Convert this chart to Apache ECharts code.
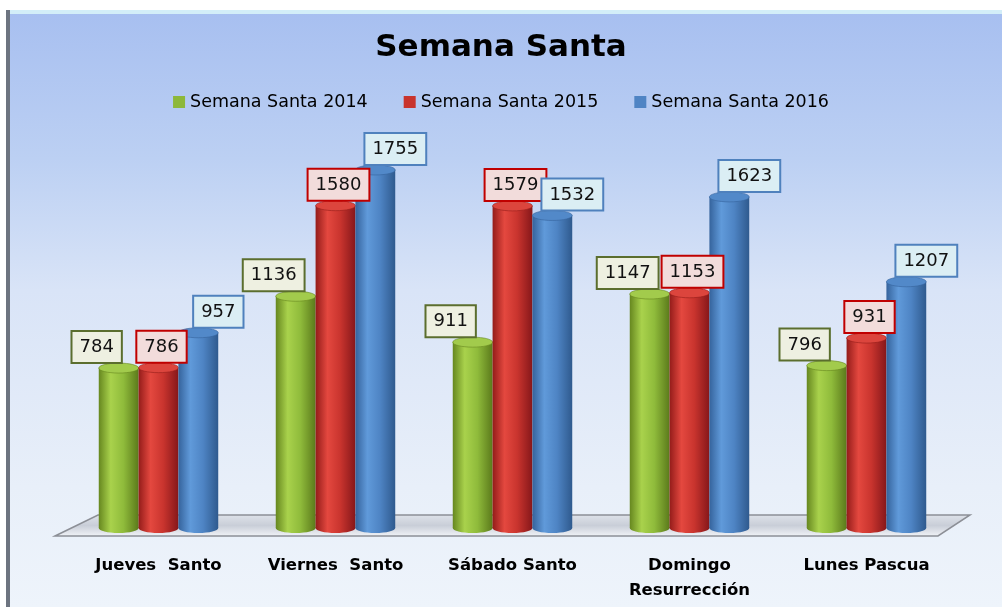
<!DOCTYPE html>
<html>
<head>
<meta charset="utf-8">
<script src="https://cdn.jsdelivr.net/npm/echarts@6/dist/echarts.min.js"></script>
<style>
  html, body { margin: 0; padding: 0; background: #fff; }
  #chart { width: 1002px; height: 607px; }
</style>
</head>
<body>
<div id="chart"></div>
<script>
const categories = ["Jueves  Santo", "Viernes  Santo", "Sábado Santo", "Domingo\nResurrección", "Lunes Pascua"];
const seriesNames = ["Semana Santa 2014", "Semana Santa 2015", "Semana Santa 2016"];
const values2014 = [784, 1136, 911, 1147, 796];
const values2015 = [786, 1580, 1579, 1153, 931];
const values2016 = [957, 1755, 1532, 1623, 1207];

// body gradient stops per series: edge, highlight, mid, edge
const palettes = [
  { base: "#8db83a", stops: ["#66871f", "#a9d24c", "#8fbb3b", "#5b7a1b"], cap: "#a2cb4c", border: "#5b6e2e", bg: "#eef0e1" },
  { base: "#c8332d", stops: ["#941c1a", "#e4483f", "#c9342e", "#86171a"], cap: "#dc453d", border: "#c00000", bg: "#f2dcdb" },
  { base: "#4f84c4", stops: ["#35639c", "#609ada", "#4e84c4", "#2f5a8e"], cap: "#5289c9", border: "#4f81bd", bg: "#dbeef4" }
];
const labelShift = [-22, 3, 20];

const chart = echarts.init(document.getElementById("chart"));

function makeRender(si) {
  const pal = palettes[si];
  return function (params, api) {
    const cat = api.value(0);
    const val = api.value(1);
    const top = api.coord([cat, val]);
    const base = api.coord([cat, 0]);
    const catW = api.size([1, 0])[0];
    const bw = catW * 0.225;
    const cx = top[0] + (si - 1) * bw;
    const ry = 5;
    const grad = new echarts.graphic.LinearGradient(0, 0, 1, 0, [
      { offset: 0, color: pal.stops[0] },
      { offset: 0.3, color: pal.stops[1] },
      { offset: 0.62, color: pal.stops[2] },
      { offset: 1, color: pal.stops[3] }
    ]);
    return {
      type: "group",
      children: [
        {
          type: "ellipse",
          shape: { cx: cx, cy: base[1], rx: bw / 2, ry: ry },
          style: { fill: grad }
        },
        {
          type: "rect",
          shape: { x: cx - bw / 2, y: top[1], width: bw, height: base[1] - top[1] },
          style: { fill: grad }
        },
        {
          type: "ellipse",
          shape: { cx: cx, cy: top[1], rx: bw / 2, ry: ry },
          style: { fill: pal.cap, stroke: pal.stops[0], lineWidth: 0.6 }
        },
        {
          type: "text",
          z2: 100,
          x: cx + labelShift[si],
          y: top[1] - ry - 1,
          style: {
            text: String(val),
            fontFamily: "DejaVu Sans",
            fontSize: 18,
            lineHeight: 21,
            fill: "#111",
            align: "center",
            verticalAlign: "bottom",
            backgroundColor: pal.bg,
            borderColor: pal.border,
            borderWidth: 2,
            padding: [5, 7, 4, 7]
          }
        }
      ]
    };
  };
}

const allValues = [values2014, values2015, values2016];

chart.setOption({
  backgroundColor: "#ffffff",
  animation: false,
  graphic: [
    {
      type: "rect", z: -10, silent: true,
      shape: { x: 9, y: 10, width: 993, height: 597 },
      style: {
        fill: new echarts.graphic.LinearGradient(0, 0, 0, 1, [
          { offset: 0, color: "#a7bff0" },
          { offset: 0.25, color: "#bcd0f3" },
          { offset: 0.47, color: "#d9e4f7" },
          { offset: 0.8, color: "#e8eff9" },
          { offset: 1, color: "#eef4fb" }
        ])
      }
    },
    {
      type: "rect", z: -9, silent: true,
      shape: { x: 9, y: 10, width: 993, height: 4 },
      style: { fill: "#d3eef8" }
    },
    {
      type: "rect", z: -9, silent: true,
      shape: { x: 6, y: 10, width: 4, height: 597 },
      style: { fill: "#6d7480" }
    },
    {
      type: "polygon", z: -5, silent: true,
      shape: { points: [[55, 536], [98, 515], [970, 515], [938, 536]] },
      style: {
        fill: new echarts.graphic.LinearGradient(0, 0, 0, 1, [
          { offset: 0, color: "#dfe3ea" },
          { offset: 0.5, color: "#c9ced8" },
          { offset: 1, color: "#f2f4f8" }
        ]),
        stroke: "#8c8f96",
        lineWidth: 1.5
      }
    }
  ],
  title: {
    text: "Semana Santa",
    left: "center",
    top: 27,
    textStyle: { fontFamily: "DejaVu Sans", fontWeight: "bold", fontSize: 31, color: "#000" }
  },
  legend: {
    top: 88,
    left: "center",
    icon: "rect",
    itemWidth: 12,
    itemHeight: 12,
    itemGap: 36,
    data: seriesNames,
    textStyle: { fontFamily: "DejaVu Sans", fontSize: 17.5, color: "#000" }
  },
  grid: { left: 70, right: 47, top: 120, bottom: 79 },
  xAxis: {
    type: "category",
    data: categories,
    axisLine: { show: false },
    axisTick: { show: false },
    axisLabel: {
      margin: 25,
      interval: 0,
      fontFamily: "DejaVu Sans",
      fontWeight: "bold",
      fontSize: 16.5,
      lineHeight: 25,
      color: "#000"
    }
  },
  yAxis: {
    type: "value",
    min: 0,
    max: 2000,
    show: false,
    splitLine: { show: false }
  },
  series: seriesNames.map(function (name, si) {
    return {
      type: "custom",
      name: name,
      itemStyle: { color: palettes[si].base },
      renderItem: makeRender(si),
      encode: { x: 0, y: 1 },
      data: allValues[si].map(function (v, i) { return [i, v]; })
    };
  })
});
</script>
</body>
</html>
